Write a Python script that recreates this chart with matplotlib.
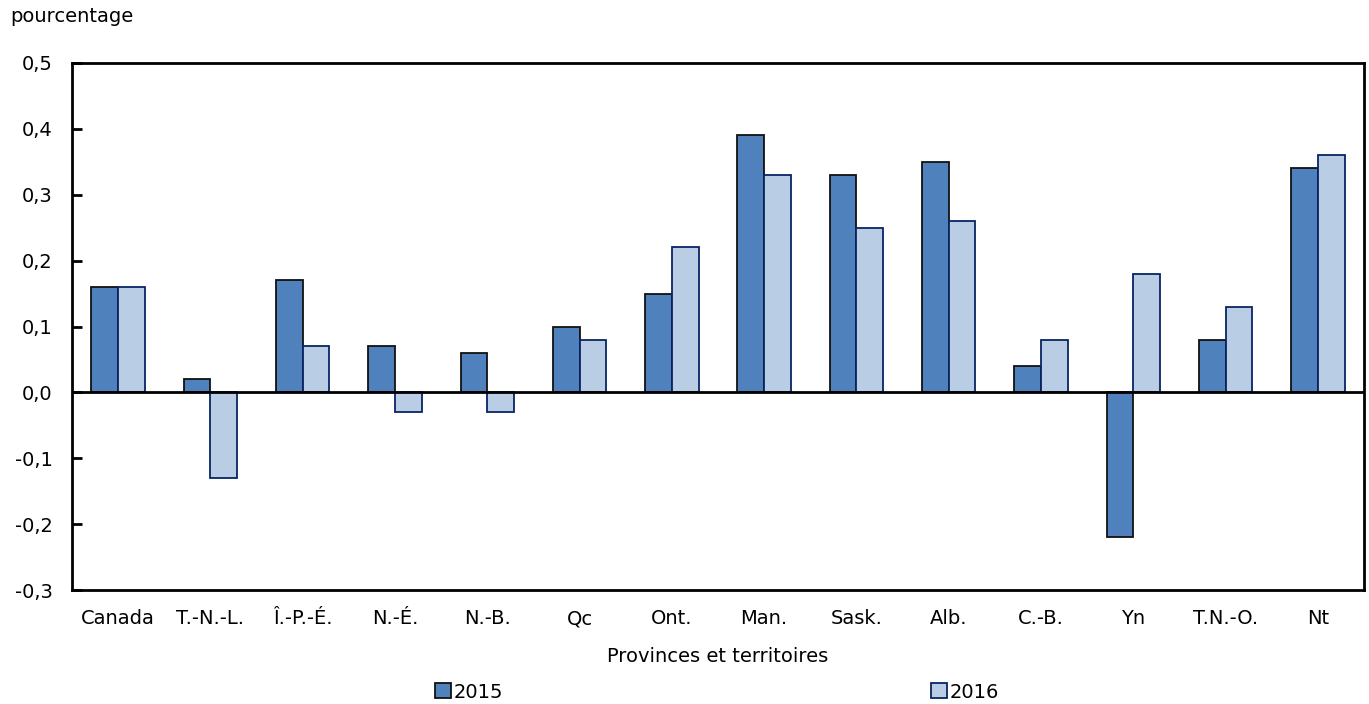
import matplotlib.pyplot as plt
import numpy as np

plt.rcParams['font.family'] = ['DejaVu Sans']

# data
provinces = ['Canada', 'T.-N.-L.', 'Î.-P.-É.', 'N.-É.', 'N.-B.', 'Qc', 'Ont.',
             'Man.', 'Sask.', 'Alb.', 'C.-B.', 'Yn', 'T.N.-O.', 'Nt']
v2015 = [0.16, 0.02, 0.17, 0.07, 0.06, 0.10, 0.15, 0.39, 0.33, 0.35, 0.04, -0.22, 0.08, 0.34]
v2016 = [0.16, -0.13, 0.07, -0.03, -0.03, 0.08, 0.22, 0.33, 0.25, 0.26, 0.08, 0.18, 0.13, 0.36]
yticks = [-0.3, -0.2, -0.1, 0.0, 0.1, 0.2, 0.3, 0.4, 0.5]

fs = 14

fig = plt.figure(figsize=(13.69, 7.04), dpi=100)
ax = fig.add_axes([72/1369, 1-590/704, (1364-72)/1369, (590-63)/704])

x = np.arange(len(provinces))
w = 0.29
ax.bar(x - w/2, v2015, w, color='#4F81BD', edgecolor='#111111', linewidth=1.3, label='2015', zorder=2)
ax.bar(x + w/2, v2016, w, color='#B9CDE5', edgecolor='#0A2463', linewidth=1.3, label='2016', zorder=2)
ax.axhline(0, color='black', linewidth=2, zorder=3)

ax.set_xlim(-0.5, len(provinces) - 0.5)
ax.set_ylim(-0.3, 0.5)
ax.set_yticks(yticks)
ax.set_yticklabels([f'{t:.1f}'.replace('.', ',') for t in yticks], fontsize=fs)
ax.set_xticks(x)
ax.set_xticklabels(provinces, fontsize=fs)
ax.tick_params(axis='x', length=0, pad=14)
ax.tick_params(axis='y', direction='in', length=7, width=2, pad=14)
for s in ax.spines.values():
    s.set_linewidth(2)

ax.set_xlabel('Provinces et territoires', fontsize=fs, labelpad=13)
fig.text(10/1369, 1-17/704, 'pourcentage', fontsize=fs, va='center', ha='left')

fig.legend(loc='center', bbox_to_anchor=(717/1369, 1-692/704), ncol=2, frameon=False,
           fontsize=fs, handlelength=0.8, handleheight=0.8, handletextpad=0.15,
           columnspacing=22)

fig.savefig('out.png', dpi=100)
